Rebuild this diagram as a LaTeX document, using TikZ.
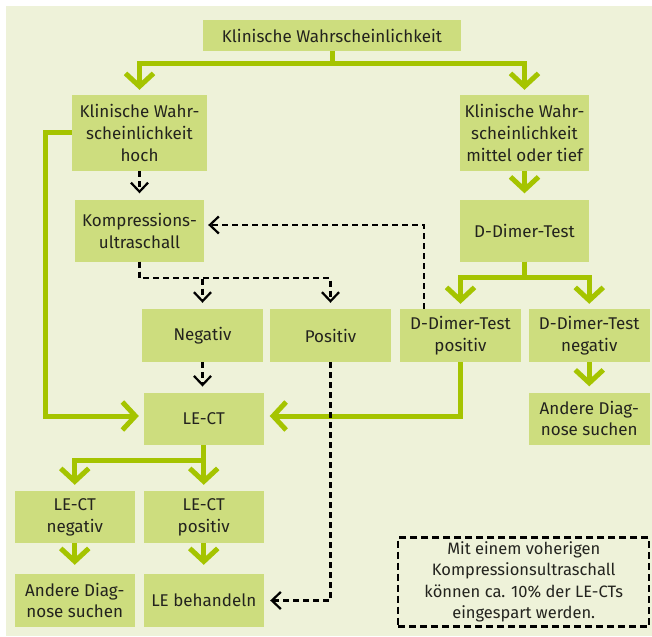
\documentclass[tikz,border=0pt]{standalone}
\usepackage{fontspec}
\setmainfont{Fira Sans}
\usetikzlibrary{arrows.meta}
\definecolor{bgc}{RGB}{238,242,217}
\definecolor{boxc}{RGB}{205,221,126}
\definecolor{lineg}{RGB}{165,196,0}
\definecolor{txtc}{RGB}{35,35,30}
\begin{document}
\begin{tikzpicture}[x=1pt,y=-1pt,
  box/.style={fill=boxc, text=txtc, align=center, minimum width=121pt,
    minimum height=53pt, inner sep=0pt, font=\fontsize{17}{21.7}\selectfont},
  garrow/.style={draw=lineg, line width=5pt,
    -{Straight Barb[length=13pt,width=28pt]}},
  darrow/.style={draw=black, line width=2.2pt, dash pattern=on 6pt off 4pt,
    -{Straight Barb[length=9pt,width=17pt]}},
  notebox/.style={draw=black, line width=2.2pt, dash pattern=on 7pt off 4pt,
    text=txtc, align=center, minimum width=251pt, minimum height=89pt,
    inner sep=0pt, font=\fontsize{16.5}{21.5}\selectfont},
]
\useasboundingbox (0,0) rectangle (652,636);
\fill[bgc] (6,6) rectangle (652,636);

% boxes
\node[box, minimum width=258pt, minimum height=31pt] (top) at (332,35.5) {Klinische Wahrscheinlichkeit};
\node[box, minimum width=135.5pt, minimum height=76pt] (hoch) at (139.5,133) {Klinische Wahr-\\scheinlichkeit\\hoch};
\node[box, minimum width=129pt, minimum height=76pt] (mittel) at (524.5,133) {Klinische Wahr-\\scheinlichkeit\\mittel oder tief};
\node[box, minimum width=129pt, minimum height=61pt] (kus) at (139.5,231) {Kompressions-\\ultraschall};
\node[box, minimum width=129pt, minimum height=61pt] (ddt) at (524.5,231) {D-Dimer-Test};
\node[box] (neg) at (202.5,335.5) {Negativ};
\node[box] (pos) at (330.5,335.5) {Positiv};
\node[box] (ddpos) at (460.5,335.5) {D-Dimer-Test\\positiv};
\node[box, minimum width=120.5pt] (ddneg) at (589.25,335.5) {D-Dimer-Test\\negativ};
\node[box, minimum width=120.5pt, minimum height=52.5pt] (lect) at (203.75,419) {LE-CT};
\node[box, minimum width=120.5pt, minimum height=52pt] (andr) at (589.25,418.5) {Andere Diag-\\nose suchen};
\node[box, minimum width=120.5pt, minimum height=52pt] (lectneg) at (74.75,517) {LE-CT\\negativ};
\node[box, minimum width=120.5pt, minimum height=52pt] (lectpos) at (203.75,517) {LE-CT\\positiv};
\node[box, minimum width=120.5pt] (andl) at (74.75,600.5) {Andere Diag-\\nose suchen};
\node[box, minimum width=120.5pt] (lebeh) at (203.75,600.5) {LE behandeln};
\node[notebox] (note) at (523.75,582) {Mit einem voherigen\\Kompressionsultraschall\\können ca. 10\% der LE-CTs\\eingespart werden.};

% junction points
\coordinate (j1) at (332,64);
\coordinate (j2) at (524.5,277);
\coordinate (j3) at (203.75,460);
\coordinate (j4) at (139.5,278);
\coordinate (l1) at (45,133);

% green connectors
\draw[garrow, shorten >=5pt] (top.south) -- (j1) -| (hoch.north);
\draw[garrow, shorten >=5pt] (top.south) -- (j1) -| (mittel.north);
\draw[garrow, shorten >=7pt] (mittel) -- (ddt);
\draw[garrow, shorten >=5pt] (ddt.south) -- (j2) -| (ddpos.north);
\draw[garrow, shorten >=5pt] (ddt.south) -- (j2) -| (ddneg.north);
\draw[garrow, shorten >=6pt] (ddneg) -- (andr);
\draw[garrow, shorten >=4.5pt] (hoch.west) -- (l1) |- ([yshift=3pt]lect.west);
\draw[garrow, shorten >=5.5pt] (ddpos.south) |- ([yshift=3pt]lect.east);
\draw[garrow, shorten >=6pt] (lect.south) -- (j3) -| (lectneg.north);
\draw[garrow, shorten >=6pt] (lect.south) -- (j3) -| (lectpos.north);
\draw[garrow, shorten >=9pt] (lectneg) -- (andl);
\draw[garrow, shorten >=9pt] (lectpos) -- (lebeh);

% dashed connectors
\draw[darrow, shorten >=7pt] (hoch.south) -- (kus.north);
\draw[darrow, shorten >=6pt] (kus.south) -- (j4) -| (neg.north);
\draw[darrow, shorten >=6pt] (kus.south) -- (j4) -| (pos.north);
\draw[darrow, shorten >=4pt] ([xshift=-36.5pt]ddpos.north) |- ([yshift=6pt]kus.east);
\draw[darrow, shorten >=6pt] (neg.south) -- (neg.south |- lect.north);
\draw[darrow, shorten >=6pt] (pos.south) |- (lebeh.east);
\end{tikzpicture}
\end{document}
